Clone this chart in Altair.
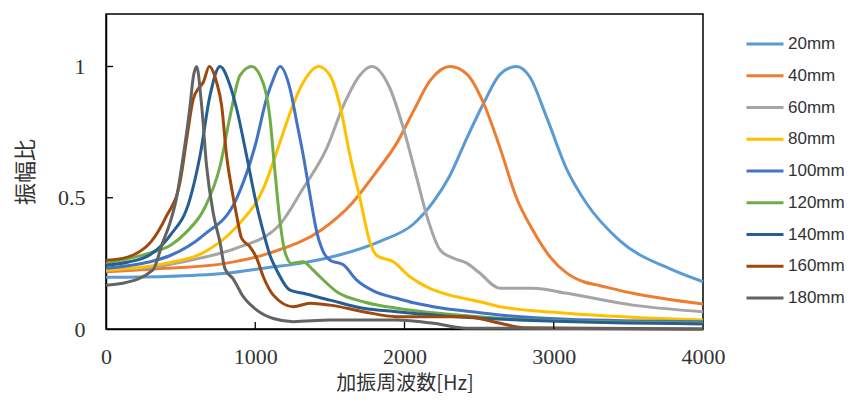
import altair as alt
import pandas as pd

series_names = ["20mm", "40mm", "60mm", "80mm", "100mm", "120mm", "140mm", "160mm", "180mm"]
series_colors = ["#5B9BD5", "#ED7D31", "#A5A5A5", "#FFC000", "#4472C4",
                 "#70AD47", "#255E91", "#9E480E", "#636363"]

f_20 = [0, 400, 800, 1100, 1300, 1550, 1840, 2060, 2200, 2300, 2420, 2530, 2640, 2750, 2840, 2950, 3090, 3220, 3440, 3800, 4000]
a_20 = [0.197, 0.200, 0.212, 0.235, 0.250, 0.280, 0.335, 0.400, 0.490, 0.580, 0.730, 0.860, 0.970, 1.000, 0.960, 0.810, 0.605, 0.478, 0.338, 0.224, 0.180]

f_40 = [0, 400, 800, 1100, 1450, 1650, 1800, 1950, 2060, 2170, 2305, 2420, 2530, 2640, 2750, 2860, 2975, 3090, 3200, 3310, 3530, 4000]
a_40 = [0.218, 0.231, 0.250, 0.290, 0.380, 0.480, 0.590, 0.710, 0.830, 0.945, 1.000, 0.970, 0.860, 0.690, 0.500, 0.376, 0.275, 0.212, 0.180, 0.165, 0.136, 0.095]

f_60 = [0, 400, 630, 870, 1160, 1320, 1480, 1590, 1700, 1780, 1900, 1990, 2080, 2150, 2240, 2330, 2420, 2500, 2640, 2860, 3090, 3530, 4000]
a_60 = [0.225, 0.243, 0.270, 0.307, 0.395, 0.535, 0.690, 0.850, 0.966, 1.000, 0.920, 0.770, 0.580, 0.430, 0.300, 0.269, 0.250, 0.215, 0.155, 0.155, 0.136, 0.091, 0.066]

f_80 = [0, 400, 650, 875, 1054, 1166, 1211, 1322, 1423, 1501, 1568, 1635, 1702, 1769, 1814, 1925, 2037, 2170, 2305, 2506, 2640, 3087, 4000]
a_80 = [0.224, 0.250, 0.290, 0.390, 0.535, 0.712, 0.788, 0.940, 1.000, 0.966, 0.850, 0.660, 0.497, 0.330, 0.280, 0.256, 0.199, 0.155, 0.129, 0.104, 0.085, 0.060, 0.034]

f_100 = [0, 295, 430, 652, 875, 1000, 1077, 1120, 1166, 1233, 1278, 1322, 1367, 1412, 1456, 1501, 1590, 1680, 1791, 1948, 2060, 2193, 2506, 2640, 3087, 4000]
a_100 = [0.231, 0.256, 0.280, 0.357, 0.497, 0.700, 0.880, 0.950, 1.000, 0.915, 0.788, 0.660, 0.510, 0.370, 0.294, 0.262, 0.245, 0.186, 0.145, 0.117, 0.100, 0.085, 0.062, 0.053, 0.037, 0.028]

f_120 = [0, 295, 430, 540, 660, 764, 831, 898, 976, 1032, 1099, 1132, 1166, 1199, 1244, 1322, 1378, 1434, 1546, 1724, 1948, 2300, 2863, 4000]
a_120 = [0.250, 0.290, 0.318, 0.370, 0.460, 0.620, 0.810, 0.966, 1.000, 0.966, 0.800, 0.600, 0.408, 0.294, 0.250, 0.256, 0.230, 0.199, 0.142, 0.104, 0.079, 0.056, 0.034, 0.022]

f_140 = [0, 150, 295, 430, 560, 630, 697, 764, 831, 875, 942, 1010, 1054, 1099, 1144, 1233, 1322, 1501, 1724, 1948, 2400, 2863, 4000]
a_140 = [0.243, 0.255, 0.283, 0.357, 0.490, 0.660, 0.890, 1.000, 0.928, 0.840, 0.660, 0.470, 0.370, 0.280, 0.224, 0.148, 0.136, 0.110, 0.079, 0.066, 0.045, 0.032, 0.019]

f_160 = [0, 112, 301, 402, 496, 541, 585, 618, 652, 692, 741, 775, 808, 842, 875, 909, 965, 1010, 1054, 1121, 1255, 1367, 1501, 1724, 1948, 2417, 2640, 2800, 4000]
a_160 = [0.262, 0.269, 0.332, 0.427, 0.560, 0.725, 0.877, 0.915, 0.940, 1.000, 0.940, 0.850, 0.660, 0.535, 0.433, 0.345, 0.313, 0.269, 0.199, 0.129, 0.085, 0.098, 0.091, 0.066, 0.047, 0.047, 0.022, 0.005, 0.000]

f_180 = [0, 112, 313, 380, 429, 469, 518, 563, 585, 607, 641, 674, 719, 764, 797, 853, 920, 1010, 1121, 1255, 1501, 1948, 2193, 2417, 4000]
a_180 = [0.167, 0.174, 0.224, 0.330, 0.405, 0.490, 0.660, 0.850, 0.960, 1.000, 0.850, 0.620, 0.440, 0.330, 0.230, 0.190, 0.123, 0.072, 0.040, 0.028, 0.034, 0.034, 0.022, 0.003, 0.000]

all_freqs = [f_20, f_40, f_60, f_80, f_100, f_120, f_140, f_160, f_180]
all_amps = [a_20, a_40, a_60, a_80, a_100, a_120, a_140, a_160, a_180]

x_tick_values = [0, 1000, 2000, 3000, 4000]
x_inner_ticks = [1000, 2000, 3000]
y_tick_values = [0, 0.5, 1]
y_inner_ticks = [0.5, 1.0]

rows = []
for order, (name, fs, vs) in enumerate(zip(series_names, all_freqs, all_amps)):
    for f, v in zip(fs, vs):
        rows.append({"series": name, "order": order, "freq": f, "amp": v})
df = pd.DataFrame(rows)

W, H = 597, 315
x_scale = alt.Scale(domain=[0, 4000], nice=False, zero=False)
y_scale = alt.Scale(domain=[0, 1.2], nice=False, zero=False)

tick_font = "Liberation Serif, DejaVu Serif, serif"
title_font = "Noto Sans CJK JP"

x_axis = alt.Axis(values=x_tick_values, format="d", title="加振周波数[Hz]",
                  ticks=False, grid=False, labelPadding=17,
                  labelFont=tick_font, labelFontSize=22, labelColor="#333333",
                  titleFont=title_font, titleFontSize=20, titleFontWeight="normal",
                  titleColor="#333333", titlePadding=6,
                  domainColor="#000000", domainWidth=1.5, labelFlush=False)
y_axis = alt.Axis(values=y_tick_values, format=".1~f", title="振幅比",
                  ticks=False, grid=False, labelPadding=21,
                  labelFont=tick_font, labelFontSize=22, labelColor="#333333",
                  titleFont=title_font, titleFontSize=22, titleFontWeight="normal",
                  titleColor="#333333", titlePadding=20,
                  domainColor="#000000", domainWidth=1.5, labelFlush=False)

lines = alt.Chart(df).mark_line(strokeWidth=3, interpolate="monotone").encode(
    x=alt.X("freq:Q", scale=x_scale, axis=x_axis),
    y=alt.Y("amp:Q", scale=y_scale, axis=y_axis),
    color=alt.Color("series:N", sort=series_names,
                    scale=alt.Scale(domain=series_names, range=series_colors),
                    legend=alt.Legend(title=None, orient="none", legendX=639, legendY=20,
                                      symbolType="stroke", symbolSize=1369, symbolStrokeWidth=3,
                                      labelFont="Liberation Sans", labelFontSize=17, labelColor="#333333",
                                      labelOffset=3, rowPadding=11.75, clipHeight=20, padding=0)),
    order=alt.Order("order:Q"),
)

xt = alt.Chart(pd.DataFrame({"freq": x_inner_ticks})).mark_rule(color="#000000", strokeWidth=1.3).encode(
    x=alt.X("freq:Q", scale=x_scale, axis=x_axis),
    y=alt.value(H - 7), y2=alt.value(H),
)
yt = alt.Chart(pd.DataFrame({"amp": y_inner_ticks})).mark_rule(color="#000000", strokeWidth=1.3).encode(
    y=alt.Y("amp:Q", scale=y_scale, axis=y_axis),
    x=alt.value(0), x2=alt.value(7),
)

chart = alt.layer(lines, xt, yt).properties(
    width=W, height=H,
    autosize=alt.AutoSizeParams(type="none"),
    padding={"left": 98, "top": 6, "right": 146, "bottom": 65},
    background="#ffffff",
).configure_view(
    stroke="#000000", strokeWidth=1.5
)

chart.save("out.html", embed_options={"renderer": "svg", "actions": False})
